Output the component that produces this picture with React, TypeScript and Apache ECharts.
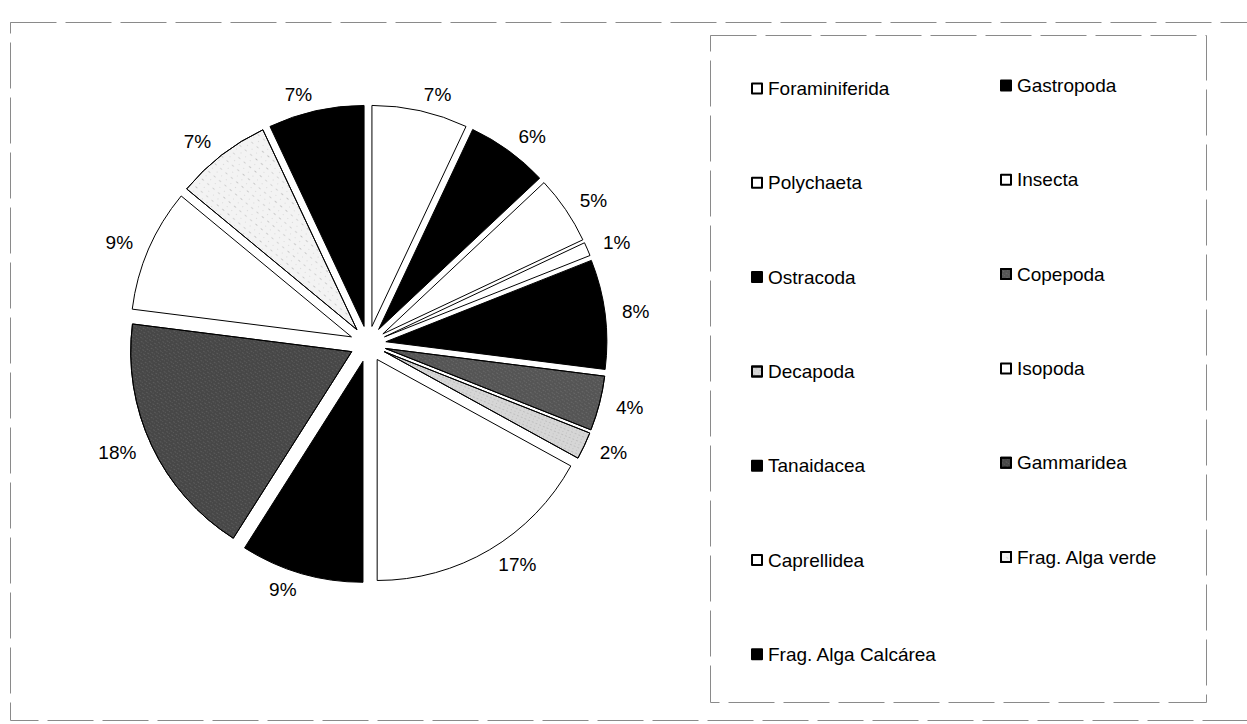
import { useEffect, useRef } from "react";
import * as echarts from "echarts";

// Share of each food item (percent)
const taxa = [
  "Foraminiferida",
  "Gastropoda",
  "Polychaeta",
  "Insecta",
  "Ostracoda",
  "Copepoda",
  "Decapoda",
  "Isopoda",
  "Tanaidacea",
  "Gammaridea",
  "Caprellidea",
  "Frag. Alga verde",
  "Frag. Alga Calcárea",
];
const percents = [7, 6, 5, 1, 8, 4, 2, 17, 9, 18, 9, 7, 7];

// Fill of each slice
const fills = [
  "#ffffff",
  "#000000",
  "#ffffff",
  "#ffffff",
  "#000000",
  "#555555",
  "#d6d6d6",
  "#ffffff",
  "#000000",
  "#474747",
  "#ffffff",
  "#f3f3f3",
  "#000000",
];

// Speckle texture kind for each slice ("" = plain)
const textures = ["", "", "", "", "", "grain", "dots", "", "", "grain", "", "sparse", ""];

function decalFor(kind: string): any {
  if (kind === "grain") {
    return {
      symbol: "rect",
      symbolSize: 0.55,
      color: "rgba(255,255,255,0.4)",
      dashArrayX: [[1, 2, 2, 1], [2, 1, 1, 2]],
      dashArrayY: [1, 2],
      rotation: 0.6,
    };
  }
  if (kind === "dots") {
    return {
      symbol: "rect",
      symbolSize: 0.6,
      color: "rgba(0,0,0,0.35)",
      dashArrayX: [[1, 3], [2, 2]],
      dashArrayY: [1, 2],
      rotation: 0.4,
    };
  }
  if (kind === "sparse") {
    return {
      symbol: "rect",
      symbolSize: 0.7,
      color: "rgba(0,0,0,0.3)",
      dashArrayX: [[1, 5], [3, 4]],
      dashArrayY: [1, 4],
      rotation: 0.7,
    };
  }
  return undefined;
}

const leftColumn = taxa.filter((_, i) => i % 2 === 0);
const rightColumn = taxa.filter((_, i) => i % 2 === 1);

export default function App() {
  const ref = useRef<HTMLDivElement>(null);

  useEffect(() => {
    if (!ref.current) return;
    const chart = echarts.init(ref.current, null, { renderer: "svg" });

    const data = taxa.map((name, i) => {
      const decal = decalFor(textures[i]);
      const itemStyle: any = {
        color: fills[i],
        borderColor: "#000",
        borderWidth: 1,
      };
      if (decal) itemStyle.decal = decal;
      return { name, value: percents[i], selected: true, itemStyle };
    });

    const legendBase = {
      orient: "vertical" as const,
      icon: "rect",
      itemWidth: 10,
      itemHeight: 10,
      itemGap: 75.3,
      selectedMode: false,
      textStyle: {
        fontFamily: "Liberation Sans, Arial, sans-serif",
        fontSize: 19,
        color: "#000",
        padding: [0, 0, 0, 1],
      },
    };

    const frameStyle = {
      fill: "none",
      stroke: "#8a8a8a",
      lineWidth: 1,
      lineDash: [46, 9],
    };

    chart.setOption({
      animation: false,
      backgroundColor: "#ffffff",
      legend: [
        { ...legendBase, data: leftColumn, left: 746, top: 74 },
        { ...legendBase, data: rightColumn, left: 995, top: 71 },
      ],
      graphic: [
        {
          type: "rect",
          shape: { x: 10.5, y: 22.5, width: 1260, height: 698 },
          style: frameStyle,
          silent: true,
        },
        {
          type: "rect",
          shape: { x: 710.5, y: 35.5, width: 496, height: 667 },
          style: frameStyle,
          silent: true,
        },
      ],
      series: [
        {
          type: "pie",
          center: [368, 344],
          radius: 221,
          startAngle: 90,
          clockwise: true,
          selectedMode: "multiple",
          selectedOffset: 18,
          avoidLabelOverlap: true,
          emphasis: { disabled: true },
          select: { itemStyle: { borderColor: "#000", borderWidth: 1 } },
          label: {
            show: true,
            position: "outside",
            formatter: "{c}%",
            fontFamily: "Liberation Sans, Arial, sans-serif",
            fontSize: 19,
            color: "#000",
            distanceToLabelLine: 0,
          },
          labelLine: { show: false, length: 17, length2: 0 },
          data,
        },
      ],
    });

    return () => chart.dispose();
  }, []);

  return (
    <div
      ref={ref}
      style={{ position: "fixed", left: 0, top: 0, width: 1247, height: 724 }}
    />
  );
}
